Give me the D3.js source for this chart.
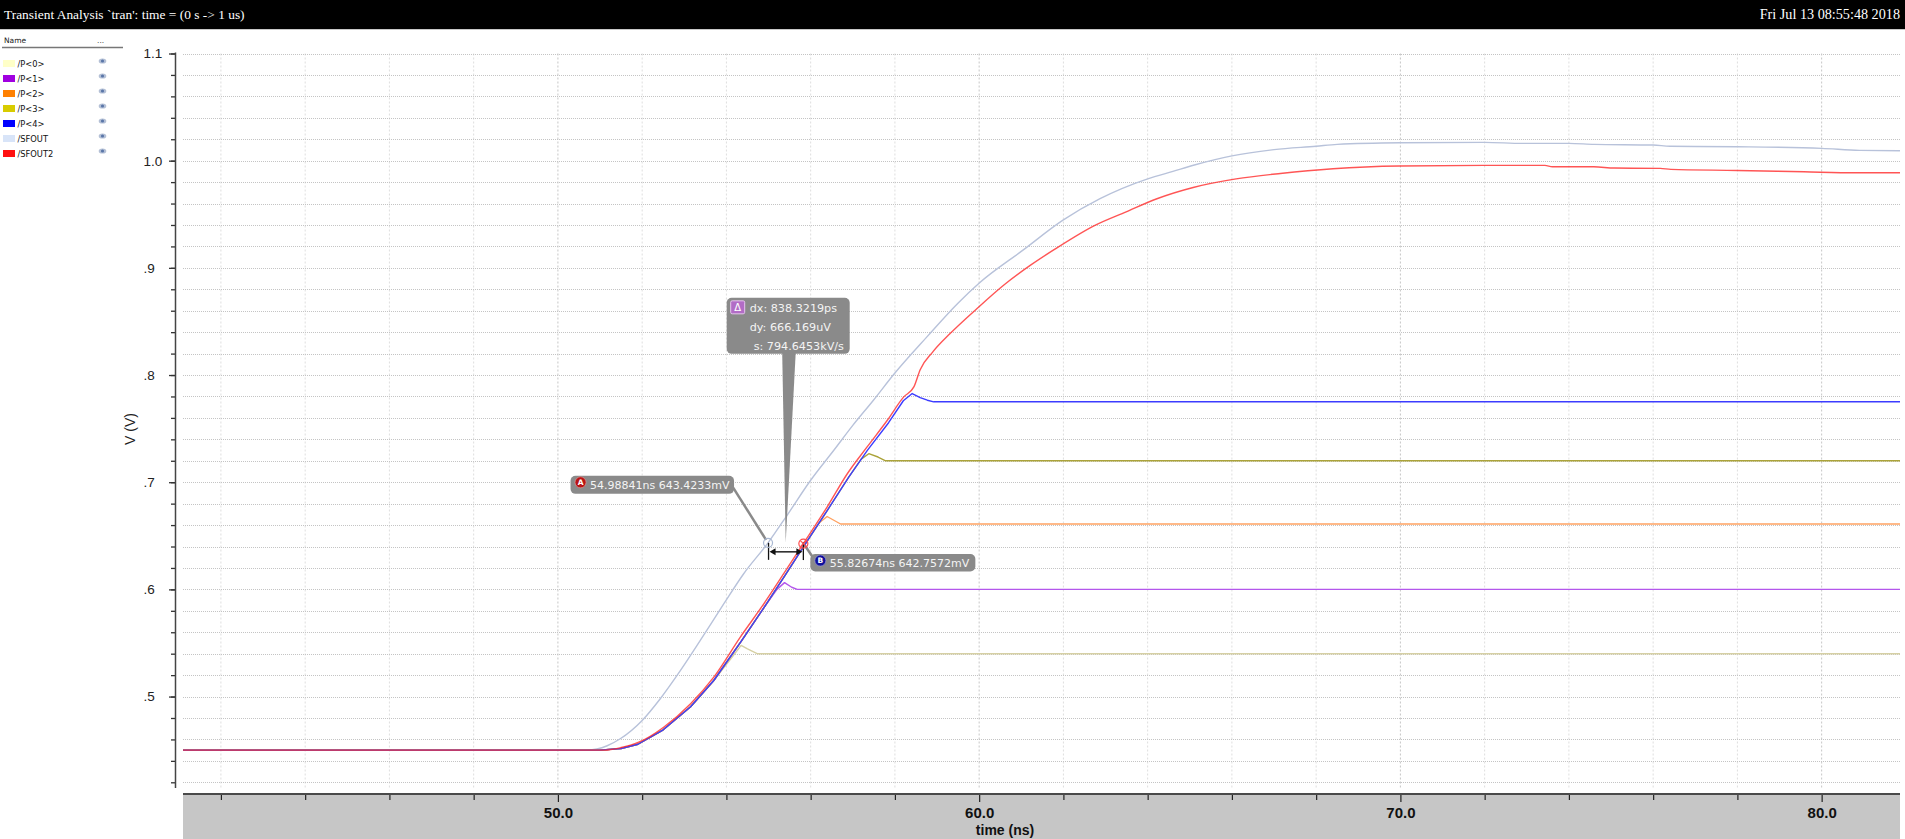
<!DOCTYPE html>
<html>
<head>
<meta charset="utf-8">
<script src="https://cdn.jsdelivr.net/npm/d3@7"></script>
<style>
  html, body { margin: 0; padding: 0; background: #fff; overflow: hidden; }
  svg { display: block; }
</style>
</head>
<body>
<svg id="chart" width="1905" height="839"></svg>
<script>
// ---- signals -------------------------------------------------------------
const signalNames  = ["/P<0>", "/P<1>", "/P<2>", "/P<3>", "/P<4>", "/SFOUT", "/SFOUT2"];
const swatchColors = ["#ffffc8", "#a000e0", "#ff8000", "#d8cc00", "#0000ff", "#d8e4f8", "#ff1010"];
const traceColors  = ["#d6d0a4", "#b457ec", "#ffa262", "#aba33a", "#3c3cff", "#b8c2da", "#ff2a2a"];

// time (ns), voltage (V)
const p0 = [[41.1,0.45],[51.0,0.45],[51.5,0.4515],[51.9,0.4555],[52.5,0.469],[53.15,0.4905],[53.7,0.515],
            [54.1,0.535],[54.35,0.5477],[54.5,0.5445],[54.73,0.540],[81.86,0.540]];
const p1 = [[41.1,0.45],[51.0,0.45],[51.5,0.4515],[51.9,0.4555],[52.5,0.469],[53.15,0.4905],[53.7,0.515],
            [54.35,0.5515],[54.9,0.5835],[55.2,0.600],[55.38,0.6063],[55.55,0.602],[55.68,0.600],[81.86,0.600]];
const p2 = [[41.1,0.45],[51.0,0.45],[51.5,0.4515],[51.9,0.4555],[52.5,0.469],[53.15,0.4905],[53.7,0.515],
            [54.35,0.5515],[54.9,0.5835],[55.4,0.6135],[55.85,0.641],[56.2,0.662],[56.39,0.668],[56.55,0.6645],
            [56.71,0.661],[81.86,0.661]];
const p3 = [[41.1,0.45],[51.0,0.45],[51.5,0.4515],[51.9,0.4555],[52.5,0.469],[53.15,0.4905],[53.7,0.515],
            [54.35,0.5515],[54.9,0.5835],[55.4,0.6135],[55.85,0.641],[56.4,0.674],[56.9,0.7045],[57.2,0.7215],
            [57.38,0.7266],[57.6,0.7235],[57.78,0.720],[81.86,0.720]];
const p4 = [[41.1,0.45],[51.0,0.45],[51.5,0.4515],[51.9,0.4555],[52.5,0.469],[53.15,0.4905],[53.7,0.515],
            [54.35,0.5515],[54.9,0.5835],[55.4,0.6135],[55.85,0.641],[56.4,0.674],[56.9,0.7045],[57.35,0.730],
            [57.85,0.7555],[58.2,0.776],[58.41,0.7827],[58.6,0.779],[58.77,0.7765],[58.92,0.775],[81.86,0.775]];
const sfout = [[41.1,0.45],[50.7,0.45],[51.17,0.4541],[51.48,0.4606],[52.0,0.4777],[52.43,0.498],[52.91,0.5244],
               [53.38,0.5524],[53.94,0.5866],[54.41,0.6146],[54.98841,0.6434233],[55.44,0.6691],[56.0,0.7018],
               [56.55,0.7298],[57.0,0.753],[57.49,0.7765],[57.99,0.8014],[58.76,0.8356],[59.49,0.8668],
               [59.99,0.8854],[61.04,0.9165],[61.99,0.9445],[62.87,0.9645],[64.0,0.9830],[64.6,0.9900],
               [65.13,0.9962],[66.0,1.0045],[67.0,1.0103],[68.0,1.0135],[68.5,1.0152],[70.0,1.0167],
               [72.0,1.0171],[72.9,1.0161],[74.0,1.0161],[74.6,1.0152],[76.0,1.0146],[76.4,1.0134],
               [78.0,1.0130],[80.0,1.0115],[80.9,1.0096],[81.86,1.0093]];
const sfout2 = [[41.1,0.45],[51.1,0.45],[51.48,0.4522],[51.92,0.4574],[52.51,0.4714],[53.15,0.4933],[53.7,0.5181],
                [54.33,0.5555],[54.89,0.5866],[55.36,0.6146],[55.82674,0.6427572],[56.39,0.6768],[56.87,0.7079],
                [57.34,0.7329],[57.82,0.7578],[58.21,0.7796],[58.45,0.7889],[58.6,0.805],[58.9,0.8216],
                [59.31,0.8387],[59.95,0.8621],[60.58,0.8838],[61.22,0.9025],[61.76,0.9165],[62.76,0.9399],
                [63.49,0.9523],[64.22,0.9645],[65.08,0.975],[66.1,0.983],[67.15,0.9881],[68.4,0.9925],
                [69.98,0.995],[71.98,0.9956],[73.43,0.9956],[73.61,0.9943],[74.59,0.9943],[75.08,0.9931],
                [76.17,0.9928],[76.42,0.9919],[78.0,0.9909],[79.58,0.9896],[80.81,0.9887],[81.86,0.9887]];
const traces = [p0, p1, p2, p3, p4, sfout, sfout2];

// ---- axes ----------------------------------------------------------------
const xTickValues = [50, 60, 70, 80];
const xTickLabels = ["50.0", "60.0", "70.0", "80.0"];
const yTickValues = [1.1, 1.0, 0.9, 0.8, 0.7, 0.6, 0.5];
const yTickLabels = ["1.1", "1.0", ".9", ".8", ".7", ".6", ".5"];

// ---- markers -------------------------------------------------------------
const markerA = { t: 54.98841, v: 0.6434233, label: "54.98841ns 643.4233mV" };
const markerB = { t: 55.82674, v: 0.6427572, label: "55.82674ns 642.7572mV" };
const deltaLines = ["dx: 838.3219ps", "dy: 666.169uV", "s: 794.6453kV/s"];

const svg = d3.select("#chart");
const W = 1905, H = 839;
const plotL = 183, plotR = 1900, plotT = 53.5, plotB = 788;

const x = d3.scaleLinear().domain([41.1, 81.86]).range([plotL, plotR]);
const y = d3.scaleLinear().domain([0.42, 1.1]).range([782.3, plotT]);

// ---- title bar -----------------------------------------------------------
svg.append("rect").attr("x", 0).attr("y", 0).attr("width", W).attr("height", 29).attr("fill", "#000");
svg.append("line").attr("x1", 0).attr("x2", W).attr("y1", 29.5).attr("y2", 29.5)
  .attr("stroke", "#c8c8c8").attr("stroke-width", 1);
svg.append("text").attr("x", 4).attr("y", 19)
  .attr("font-family", "Liberation Serif, serif").attr("font-size", 13.4).attr("fill", "#fff")
  .text("Transient Analysis `tran': time = (0 s -> 1 us)");
svg.append("text").attr("x", 1900).attr("y", 19).attr("text-anchor", "end")
  .attr("font-family", "Liberation Serif, serif").attr("font-size", 14.2).attr("fill", "#fff")
  .text("Fri Jul 13 08:55:48 2018");

// ---- legend --------------------------------------------------------------
const legend = svg.append("g").attr("font-family", "DejaVu Sans, sans-serif");
legend.append("text").attr("x", 4).attr("y", 43).attr("font-size", 7.5).attr("fill", "#222").text("Name");
legend.append("text").attr("x", 97).attr("y", 43).attr("font-size", 7.5).attr("fill", "#444").text("...");
legend.append("line").attr("x1", 2).attr("x2", 123).attr("y1", 47.5).attr("y2", 47.5)
  .attr("stroke", "#777").attr("stroke-width", 1.5);
const rows = legend.selectAll("g.row").data(signalNames).join("g")
  .attr("class", "row")
  .attr("transform", (d, i) => `translate(0, ${63.5 + i * 15})`);
rows.append("rect").attr("x", 3).attr("y", -3.5).attr("width", 12).attr("height", 7)
  .attr("fill", (d, i) => swatchColors[i]);
rows.append("text").attr("x", 17.5).attr("y", 3).attr("font-size", 8.3).attr("fill", "#111").text(d => d);
rows.append("ellipse").attr("cx", 102.5).attr("cy", -2.5).attr("rx", 3.8).attr("ry", 2.6).attr("fill", "#b4c0d6");
rows.append("circle").attr("cx", 102.5).attr("cy", -2.5).attr("r", 1.6).attr("fill", "#5a76a8");

// ---- grid ----------------------------------------------------------------
const yGridVals = d3.range(0, 35).map(i => +(0.42 + i * 0.02).toFixed(2));
const xGridVals = d3.range(42, 81, 2);
const grid = svg.append("g");
grid.selectAll("line.gx").data(xGridVals).join("line")
  .attr("x1", d => x(d)).attr("x2", d => x(d)).attr("y1", plotT).attr("y2", plotB)
  .attr("stroke", d => d % 10 === 0 ? "#c6c6c6" : "#dedede")
  .attr("stroke-width", 1).attr("stroke-dasharray", "2,2");
grid.selectAll("line.gy").data(yGridVals).join("line")
  .attr("x1", plotL).attr("x2", plotR).attr("y1", d => Math.round(y(d)) + 0.5).attr("y2", d => Math.round(y(d)) + 0.5)
  .attr("stroke", "#c4c4c4").attr("stroke-width", 1).attr("stroke-dasharray", "1,1");

// ---- y axis --------------------------------------------------------------
const yAxisG = svg.append("g").attr("transform", "translate(175.5,0)");
yAxisG.call(d3.axisLeft(y).tickValues(yGridVals).tickSize(4.5).tickFormat(""));
const yMajor = svg.append("g").attr("transform", "translate(175.5,0)")
  .call(d3.axisLeft(y).tickValues(yTickValues).tickSize(6.5).tickFormat((d, i) => yTickLabels[i]));
[yAxisG, yMajor].forEach(g => {
  g.select(".domain").remove();
  g.selectAll(".tick line").attr("stroke", "#333").attr("stroke-width", 1.3);
});
yMajor.selectAll(".tick text")
  .attr("x", -32).attr("text-anchor", "start")
  .attr("font-family", "Liberation Sans, Arial, sans-serif").attr("font-size", 13.5).attr("fill", "#222");
svg.append("line").attr("x1", 175.5).attr("x2", 175.5).attr("y1", plotT - 1).attr("y2", plotB)
  .attr("stroke", "#444").attr("stroke-width", 1.5);
svg.append("text")
  .attr("transform", "translate(135,429) rotate(-90)").attr("text-anchor", "middle")
  .attr("font-family", "Liberation Sans, Arial, sans-serif").attr("font-size", 14).attr("fill", "#222")
  .text("V (V)");

// ---- x axis band ---------------------------------------------------------
const bandTop = 794;
svg.append("rect").attr("x", plotL).attr("y", bandTop).attr("width", plotR - plotL).attr("height", H - bandTop)
  .attr("fill", "#c6c6c6");
const xMinor = svg.append("g").attr("transform", `translate(0,${bandTop})`)
  .call(d3.axisBottom(x).tickValues(xGridVals.filter(d => d % 10 !== 0)).tickSize(6).tickFormat(""));
const xMajor = svg.append("g").attr("transform", `translate(0,${bandTop})`)
  .call(d3.axisBottom(x).tickValues(xTickValues).tickSize(8).tickPadding(5)
    .tickFormat((d, i) => xTickLabels[i]));
[xMinor, xMajor].forEach(g => {
  g.select(".domain").remove();
  g.selectAll(".tick line").attr("stroke", "#222").attr("stroke-width", 1.2);
});
xMajor.selectAll(".tick text")
  .attr("font-family", "Liberation Sans Narrow, Arial Narrow, sans-serif").attr("font-weight", "bold")
  .attr("font-size", 15).attr("fill", "#111");
svg.append("line").attr("x1", plotL).attr("x2", plotR).attr("y1", bandTop).attr("y2", bandTop)
  .attr("stroke", "#4a4a4a").attr("stroke-width", 2);
svg.append("text").attr("x", 1005).attr("y", 835).attr("text-anchor", "middle")
  .attr("font-family", "Liberation Sans Narrow, Arial Narrow, sans-serif").attr("font-weight", "bold")
  .attr("font-size", 14).attr("fill", "#111").text("time (ns)");

// ---- traces --------------------------------------------------------------
const stepLine = d3.line().x(d => x(d[0])).y(d => y(d[1]));
const smoothLine = d3.line().x(d => x(d[0])).y(d => y(d[1])).curve(d3.curveMonotoneX);
const drawOrder = [5, 0, 1, 2, 3, 4, 6];
const traceG = svg.append("g");
drawOrder.forEach(i => {
  traceG.append("path").datum(traces[i])
    .attr("d", i >= 5 ? smoothLine : stepLine).attr("fill", "none")
    .attr("stroke", traceColors[i]).attr("stroke-width", 1.4)
    .attr("stroke-opacity", i === 6 ? 0.8 : 1)
    .attr("stroke-linejoin", "round");
});

// ---- marker annotations --------------------------------------------------
const ax = x(markerA.t), ay = y(markerA.v);
const bx = x(markerB.t), by = y(markerB.v);
const ann = svg.append("g").attr("font-family", "DejaVu Sans, sans-serif");
const boxFill = "#8a8a8a";

// delta callout
const midX = (ax + bx) / 2;
const dBox = { x: midX - 59, y: ay - 245, w: 123, h: 56 };
ann.append("path")
  .attr("d", `M${midX - 3.5},${dBox.y + dBox.h - 1} L${midX + 10},${dBox.y + dBox.h - 1} L${midX},${ay} Z`)
  .attr("fill", boxFill);
ann.append("rect").attr("x", dBox.x).attr("y", dBox.y).attr("width", dBox.w).attr("height", dBox.h)
  .attr("rx", 5).attr("fill", boxFill);
const dIcon = ann.append("g").attr("transform", `translate(${dBox.x + 4},${dBox.y + 3})`);
dIcon.append("rect").attr("width", 14).attr("height", 13).attr("rx", 1.5)
  .attr("fill", "#b26cc6").attr("stroke", "#e6c4ee").attr("stroke-width", 1);
dIcon.append("text").attr("x", 7).attr("y", 10.5).attr("text-anchor", "middle")
  .attr("font-size", 10).attr("fill", "#fff").text("Δ");
const deltaIndent = [23, 23, 27];
deltaLines.forEach((txt, i) => {
  ann.append("text").attr("x", dBox.x + deltaIndent[i]).attr("y", dBox.y + 14 + i * 19)
    .attr("font-size", 11.2).attr("fill", "#f4f4f4").text(txt);
});

// A label
const aBox = { x: ax - 197.5, y: ay - 67, w: 163.5, h: 18 };
ann.append("line").attr("x1", aBox.x + aBox.w - 2).attr("y1", aBox.y + 10).attr("x2", ax - 2).attr("y2", ay - 3)
  .attr("stroke", boxFill).attr("stroke-width", 2.5);
ann.append("rect").attr("x", aBox.x).attr("y", aBox.y).attr("width", aBox.w).attr("height", aBox.h)
  .attr("rx", 5).attr("fill", boxFill);
ann.append("circle").attr("cx", aBox.x + 10).attr("cy", aBox.y + 6.5).attr("r", 5.5)
  .attr("fill", "#b81414").attr("stroke", "#e8a0a0").attr("stroke-width", 0.6);
ann.append("text").attr("x", aBox.x + 10).attr("y", aBox.y + 9.3).attr("text-anchor", "middle")
  .attr("font-size", 7.5).attr("font-weight", "bold").attr("fill", "#fff").text("A");
ann.append("text").attr("x", aBox.x + 19.5).attr("y", aBox.y + 13.3)
  .attr("font-size", 11).attr("fill", "#f4f4f4").text(markerA.label);

// B label
const bBox = { x: bx + 7, y: by + 10.5, w: 165, h: 17.5 };
ann.append("line").attr("x1", bx + 1.5).attr("y1", by + 2).attr("x2", bBox.x + 3).attr("y2", bBox.y + 4)
  .attr("stroke", boxFill).attr("stroke-width", 2.5);
ann.append("rect").attr("x", bBox.x).attr("y", bBox.y).attr("width", bBox.w).attr("height", bBox.h)
  .attr("rx", 5).attr("fill", boxFill);
ann.append("circle").attr("cx", bBox.x + 10).attr("cy", bBox.y + 6.5).attr("r", 5.5)
  .attr("fill", "#10109a").attr("stroke", "#a0a0e8").attr("stroke-width", 0.6);
ann.append("text").attr("x", bBox.x + 10).attr("y", bBox.y + 9.3).attr("text-anchor", "middle")
  .attr("font-size", 7.5).attr("font-weight", "bold").attr("fill", "#fff").text("B");
ann.append("text").attr("x", bBox.x + 19.5).attr("y", bBox.y + 13.3)
  .attr("font-size", 11).attr("fill", "#f4f4f4").text(markerB.label);

// measurement bracket between A and B
const arrowY = ay + 9;
ann.append("line").attr("x1", ax + 0.5).attr("x2", ax + 0.5).attr("y1", ay).attr("y2", ay + 17)
  .attr("stroke", "#111").attr("stroke-width", 1.3);
ann.append("line").attr("x1", bx).attr("x2", bx).attr("y1", by - 1).attr("y2", by + 16.5)
  .attr("stroke", "#111").attr("stroke-width", 1.3);
ann.append("line").attr("x1", ax + 6).attr("x2", bx - 6).attr("y1", arrowY).attr("y2", arrowY)
  .attr("stroke", "#111").attr("stroke-width", 1.4);
ann.append("path").attr("d", `M${ax + 1.5},${arrowY} L${ax + 7.5},${arrowY - 3.5} L${ax + 7.5},${arrowY + 3.5} Z`)
  .attr("fill", "#111");
ann.append("path").attr("d", `M${bx - 1},${arrowY} L${bx - 7},${arrowY - 3.5} L${bx - 7},${arrowY + 3.5} Z`)
  .attr("fill", "#111");

// marker symbols
ann.append("circle").attr("cx", ax).attr("cy", ay).attr("r", 4.5)
  .attr("fill", "none").attr("stroke", "#a9b8d2").attr("stroke-width", 1.2);
ann.append("circle").attr("cx", bx).attr("cy", by).attr("r", 4.5)
  .attr("fill", "none").attr("stroke", "#ff4a4a").attr("stroke-width", 1.2);
ann.append("path").attr("d", `M${bx - 3},${by - 3} L${bx + 3},${by + 3} M${bx - 3},${by + 3} L${bx + 3},${by - 3}`)
  .attr("stroke", "#ff4a4a").attr("stroke-width", 1.1);
</script>
</body>
</html>
